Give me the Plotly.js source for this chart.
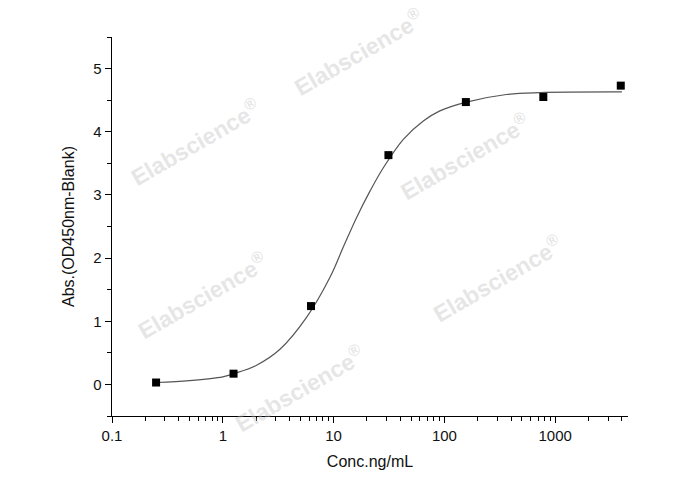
<!DOCTYPE html>
<html>
<head>
<meta charset="utf-8">
<script src="https://cdn.plot.ly/plotly-3.0.1.min.js"></script>
<style>
  body { margin: 0; background: #fff; }
  #plot { width: 688px; height: 490px; }
</style>
</head>
<body>
<div id="plot"></div>
<script>
// standard points (concentration ng/mL, OD450 - blank)
const concX = [0.25, 1.25, 6.25, 31.25, 156.25, 781.25, 3906.25];
const absY = [0.03, 0.17, 1.24, 3.63, 4.47, 4.55, 4.73];

// fitted curve
const fitX = [0.25, 0.5, 1, 1.25, 2, 3.3, 5.7, 9.3, 12.2, 16.1, 21.3, 28.1, 42.6, 64.5, 91, 158, 363, 724, 4000];
const fitY = [0.03, 0.06, 0.12, 0.17, 0.30, 0.56, 1.06, 1.70, 2.17, 2.64, 3.06, 3.43, 3.88, 4.17, 4.33, 4.47, 4.59, 4.62, 4.63];

const xTicks = [0.1, 1, 10, 100, 1000];
const xTickText = ["0.1", "1", "10", "100", "1000"];

// minor ticks 2..9 in each decade
let minorX = [];
for (let d = 0.1; d < 5000; d *= 10) {
    for (let k = 2; k <= 9; k++) {
        if (d * k < 4540) minorX.push(d * k);
    }
}

// watermark spots (paper coords)
const marks = [[0.477, 0.96], [0.161, 0.722], [0.684, 0.687], [0.176, 0.318], [0.748, 0.363], [0.364, 0.073]];

const font = "Liberation Sans, Arial, sans-serif";

let annotations = marks.map(m => ({
    x: m[0], y: m[1], xref: 'paper', yref: 'paper',
    xanchor: 'center', yanchor: 'middle',
    text: 'Elabscience<sup>®</sup>',
    showarrow: false,
    textangle: -30,
    font: {family: font, size: 23, color: 'rgba(190,190,190,0.4)', weight: 'bold'}
}));

let traces = [
    {
        x: fitX, y: fitY,
        mode: 'lines',
        line: {color: '#555', width: 1.2, shape: 'spline'},
        hoverinfo: 'skip'
    },
    {
        x: concX, y: absY,
        mode: 'markers',
        marker: {symbol: 'square', size: 8, color: '#000'}
    }
];

let layout = {
    width: 688, height: 490,
    margin: {l: 112, r: 60, t: 37, b: 74},
    showlegend: false,
    paper_bgcolor: '#fff',
    plot_bgcolor: '#fff',
    font: {family: font, size: 15, color: '#111'},
    xaxis: {
        type: 'log',
        range: [-1, Math.log10(4540)],
        tickvals: xTicks,
        ticktext: xTickText,
        ticks: 'outside', ticklen: 6, tickwidth: 1, tickcolor: '#000',
        minor: {tickvals: minorX, ticks: 'outside', ticklen: 3.5, tickwidth: 1, tickcolor: '#000', showgrid: false},
        showline: true, linecolor: '#000', linewidth: 1.3,
        showgrid: false, zeroline: false,
        title: {text: 'Conc.ng/mL', font: {size: 16}, standoff: 12}
    },
    yaxis: {
        range: [-0.5, 5.5],
        tickvals: [0, 1, 2, 3, 4, 5],
        ticks: 'outside', ticklen: 6, tickwidth: 1, tickcolor: '#000',
        minor: {dtick: 0.5, tick0: 0.5, ticks: 'outside', ticklen: 3.5, tickwidth: 1, tickcolor: '#000', showgrid: false},
        showline: true, linecolor: '#000', linewidth: 1.3,
        showgrid: false, zeroline: false,
        title: {text: 'Abs.(OD450nm-Blank)', font: {size: 16}, standoff: 14}
    },
    annotations: annotations
};

Plotly.newPlot('plot', traces, layout, {displayModeBar: false, staticPlot: true});
</script>
</body>
</html>
